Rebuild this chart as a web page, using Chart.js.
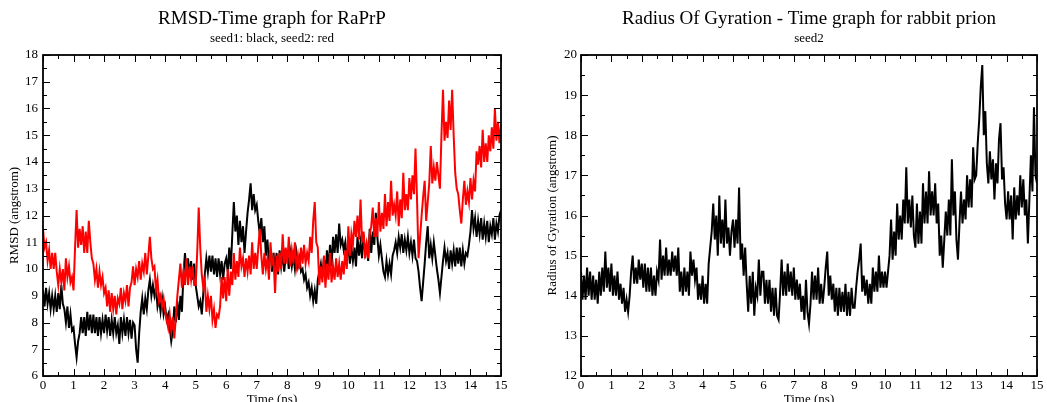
<!DOCTYPE html>
<html>
<head>
<meta charset="utf-8">
<script src="https://cdn.jsdelivr.net/npm/chart.js@4"></script>
<style>
  html, body { margin: 0; padding: 0; background: #fff; overflow: hidden; }
  #left { position: absolute; left: 0; top: 0; }
  #right { position: absolute; left: 520px; top: 0; }
</style>
</head>
<body>
<canvas id="left" width="520" height="402"></canvas>
<canvas id="right" width="527" height="402"></canvas>
<script>
// time axis (ns), sampled every 0.05 ns
const timeNs = [
  0.00, 0.05, 0.10, 0.15, 0.20, 0.25, 0.30, 0.35, 0.40, 0.45, 0.50, 0.55, 0.60, 0.65, 0.70, 0.75, 0.80, 0.85, 0.90, 0.95,
  1.00, 1.05, 1.10, 1.15, 1.20, 1.25, 1.30, 1.35, 1.40, 1.45, 1.50, 1.55, 1.60, 1.65, 1.70, 1.75, 1.80, 1.85, 1.90, 1.95,
  2.00, 2.05, 2.10, 2.15, 2.20, 2.25, 2.30, 2.35, 2.40, 2.45, 2.50, 2.55, 2.60, 2.65, 2.70, 2.75, 2.80, 2.85, 2.90, 2.95,
  3.00, 3.05, 3.10, 3.15, 3.20, 3.25, 3.30, 3.35, 3.40, 3.45, 3.50, 3.55, 3.60, 3.65, 3.70, 3.75, 3.80, 3.85, 3.90, 3.95,
  4.00, 4.05, 4.10, 4.15, 4.20, 4.25, 4.30, 4.35, 4.40, 4.45, 4.50, 4.55, 4.60, 4.65, 4.70, 4.75, 4.80, 4.85, 4.90, 4.95,
  5.00, 5.05, 5.10, 5.15, 5.20, 5.25, 5.30, 5.35, 5.40, 5.45, 5.50, 5.55, 5.60, 5.65, 5.70, 5.75, 5.80, 5.85, 5.90, 5.95,
  6.00, 6.05, 6.10, 6.15, 6.20, 6.25, 6.30, 6.35, 6.40, 6.45, 6.50, 6.55, 6.60, 6.65, 6.70, 6.75, 6.80, 6.85, 6.90, 6.95,
  7.00, 7.05, 7.10, 7.15, 7.20, 7.25, 7.30, 7.35, 7.40, 7.45, 7.50, 7.55, 7.60, 7.65, 7.70, 7.75, 7.80, 7.85, 7.90, 7.95,
  8.00, 8.05, 8.10, 8.15, 8.20, 8.25, 8.30, 8.35, 8.40, 8.45, 8.50, 8.55, 8.60, 8.65, 8.70, 8.75, 8.80, 8.85, 8.90, 8.95,
  9.00, 9.05, 9.10, 9.15, 9.20, 9.25, 9.30, 9.35, 9.40, 9.45, 9.50, 9.55, 9.60, 9.65, 9.70, 9.75, 9.80, 9.85, 9.90, 9.95,
  10.00, 10.05, 10.10, 10.15, 10.20, 10.25, 10.30, 10.35, 10.40, 10.45, 10.50, 10.55, 10.60, 10.65, 10.70, 10.75, 10.80, 10.85, 10.90, 10.95,
  11.00, 11.05, 11.10, 11.15, 11.20, 11.25, 11.30, 11.35, 11.40, 11.45, 11.50, 11.55, 11.60, 11.65, 11.70, 11.75, 11.80, 11.85, 11.90, 11.95,
  12.00, 12.05, 12.10, 12.15, 12.20, 12.25, 12.30, 12.35, 12.40, 12.45, 12.50, 12.55, 12.60, 12.65, 12.70, 12.75, 12.80, 12.85, 12.90, 12.95,
  13.00, 13.05, 13.10, 13.15, 13.20, 13.25, 13.30, 13.35, 13.40, 13.45, 13.50, 13.55, 13.60, 13.65, 13.70, 13.75, 13.80, 13.85, 13.90, 13.95,
  14.00, 14.05, 14.10, 14.15, 14.20, 14.25, 14.30, 14.35, 14.40, 14.45, 14.50, 14.55, 14.60, 14.65, 14.70, 14.75, 14.80, 14.85, 14.90, 14.95,
  15.00
];

// RMSD (angstrom), seed1 (black)
const seed1Rmsd = [
  9.2, 8.6, 9.3, 8.7, 9.1, 8.5, 9.0, 8.5, 9.0, 8.4, 9.1, 8.5, 9.4, 8.7, 8.5, 8.0, 8.6, 7.8, 8.3, 7.7,
  7.8, 7.2, 6.7, 7.3, 7.6, 8.2, 7.6, 8.2, 7.5, 8.4, 7.7, 8.3, 7.6, 8.3, 7.6, 8.2, 7.5, 8.2, 7.6, 8.1,
  7.6, 8.3, 7.7, 8.2, 7.5, 8.1, 7.6, 8.2, 7.6, 7.9, 7.2, 8.2, 7.6, 8.1, 7.5, 8.2, 7.6, 8.1, 7.4, 8.0,
  7.9, 7.0, 6.5, 7.6, 8.4, 8.9, 8.3, 8.9, 8.5, 9.2, 9.6, 9.0, 9.4, 9.0, 9.3, 8.6, 8.9, 8.4, 8.9, 8.3,
  8.6, 8.1, 8.3, 7.8, 7.3, 7.7, 8.6, 8.0, 8.8, 8.1, 9.0, 8.4, 9.8, 10.6, 9.8, 10.4, 9.7, 10.3, 9.6, 10.2,
  9.4, 9.0, 8.6, 8.8, 8.3, 9.1, 9.8, 10.4, 9.9, 10.5, 9.9, 10.5, 9.8, 10.4, 9.7, 10.4, 9.8, 10.3, 9.6, 10.2,
  10.4, 9.9, 10.8, 10.0, 11.3, 12.5, 11.4, 12.0, 10.9, 11.8, 11.0, 11.6, 10.6, 11.4, 12.1, 12.6, 13.2, 12.2, 12.8, 12.2,
  12.4, 11.8, 11.3, 11.9, 11.0, 11.6, 10.5, 11.1, 10.2, 10.7, 9.9, 10.6, 10.0, 10.6, 9.8, 10.7, 10.1, 10.6, 9.9, 10.5,
  10.6, 10.0, 10.6, 10.1, 10.5, 10.0, 10.6, 10.1, 10.4, 9.9, 10.0, 9.6, 9.8, 9.3, 9.5, 9.0, 9.3, 8.8, 9.2, 8.7,
  9.6, 9.9, 10.2, 9.7, 10.4, 9.8, 10.7, 10.0, 10.9, 10.1, 11.2, 10.6, 11.3, 10.6, 11.7, 10.9, 11.1, 10.7, 11.0, 10.4,
  10.9, 10.2, 10.8, 10.3, 10.8, 10.1, 11.2, 10.5, 11.0, 10.4, 11.3, 10.6, 10.9, 10.3, 11.5, 10.6, 11.4, 10.9, 12.1, 11.2,
  10.5, 10.9, 10.4, 9.9, 9.7, 10.3, 9.8, 10.2, 9.8, 10.5, 10.7, 11.0, 10.6, 11.2, 10.8, 11.3, 10.6, 11.1, 10.7, 11.2,
  10.6, 11.0, 10.5, 11.1, 10.4, 10.3, 9.9, 9.3, 8.8, 9.5, 10.2, 11.0, 11.6, 10.4, 10.9, 10.4, 11.0, 10.5, 10.0, 9.6,
  9.1, 9.7, 10.3, 10.8, 10.3, 10.6, 10.0, 10.7, 10.2, 10.7, 10.1, 10.8, 10.2, 10.8, 10.1, 10.7, 10.2, 10.6, 10.5, 10.9,
  11.4, 12.2, 11.5, 11.9, 11.2, 11.8, 11.3, 11.9, 11.1, 11.7, 11.2, 11.8, 11.0, 11.6, 11.3, 11.9, 11.1, 11.7, 11.4, 12.0,
  12.2
];

// RMSD (angstrom), seed2 (red)
const seed2Rmsd = [
  11.5, 10.8, 11.0, 10.3, 10.7, 10.0, 10.6, 10.0, 10.6, 9.9, 9.4, 10.0, 9.5, 10.0, 9.2, 10.4, 9.7, 10.1, 9.5, 9.7,
  9.2, 10.8, 12.2, 10.8, 11.5, 10.9, 11.6, 10.6, 11.4, 10.6, 11.8, 11.0, 10.4, 10.2, 9.6, 10.0, 9.3, 9.9, 9.4, 9.7,
  9.1, 9.3, 8.6, 9.2, 8.4, 9.1, 8.5, 9.0, 8.3, 8.9, 8.7, 9.3, 8.5, 9.1, 8.8, 9.4, 8.6, 9.3, 9.5, 10.1,
  9.4, 10.0, 9.7, 10.3, 9.6, 10.2, 9.9, 10.6, 9.8, 10.5, 11.2, 10.4, 10.0, 10.1, 9.2, 9.6, 8.8, 9.0, 8.6, 8.9,
  8.4, 8.1, 7.8, 8.3, 7.7, 8.2, 7.4, 8.2, 9.0, 9.6, 10.2, 9.3, 9.9, 9.4, 10.4, 9.4, 10.1, 9.6, 10.1, 9.4,
  9.4, 10.6, 12.3, 10.8, 9.8, 9.3, 9.6, 8.4, 9.0, 8.5, 9.0, 8.1, 8.5, 7.8, 8.3, 8.2, 8.6, 9.7, 8.9, 9.7,
  8.8, 10.0, 9.0, 9.9, 9.4, 10.6, 9.6, 10.3, 9.7, 10.8, 10.1, 10.4, 9.7, 10.4, 9.9, 10.5, 9.8, 11.0, 10.0, 10.6,
  10.0, 10.8, 11.5, 10.5, 9.8, 10.6, 10.0, 10.4, 9.6, 11.0, 10.2, 10.4, 9.1, 10.5, 9.9, 10.6, 10.0, 11.3, 10.2, 10.8,
  10.2, 11.2, 10.1, 10.7, 10.2, 11.0, 10.1, 10.5, 10.0, 10.8, 10.2, 10.9, 10.2, 10.6, 10.3, 11.2, 10.6, 11.8, 12.5, 11.0,
  10.8, 9.4, 10.1, 9.5, 10.5, 9.3, 10.2, 9.6, 10.6, 9.5, 10.1, 9.6, 10.4, 9.7, 10.2, 9.6, 10.3, 9.8, 10.7, 10.0,
  11.6, 10.5, 11.3, 10.9, 11.8, 11.2, 12.0, 11.1, 12.6, 11.0, 11.4, 10.4, 10.9, 10.4, 11.3, 11.6, 12.3, 11.2, 11.9, 11.2,
  12.5, 11.4, 12.1, 11.5, 12.8, 11.6, 12.5, 11.8, 13.3, 12.0, 12.4, 12.0, 12.9, 11.6, 12.6, 11.9, 13.6, 12.2, 12.8, 12.2,
  13.4, 12.6, 13.5, 12.8, 14.5, 12.6, 10.4, 11.2, 12.0, 12.7, 13.3, 11.8, 12.5, 13.2, 14.6, 13.2, 13.8, 13.3, 14.0, 13.5,
  13.0, 15.0, 16.7, 14.8, 15.5, 14.9, 16.3, 15.2, 16.7, 15.0, 13.6, 13.0, 12.8, 12.2, 11.7, 12.6, 13.3, 12.4, 12.9, 12.5,
  13.4, 12.6, 13.3, 12.9, 14.4, 13.9, 14.6, 13.8, 15.2, 14.0, 14.7, 14.0, 15.0, 14.4, 15.3, 14.5, 16.0, 14.8, 15.5, 14.7,
  15.4
];

// Radius of gyration (angstrom), seed2
const seed2Rg = [
  14.6, 13.9, 14.5, 13.9, 14.7, 14.0, 14.6, 13.9, 14.5, 13.9, 14.4, 13.8, 14.6, 14.0, 14.7, 14.1, 15.1, 14.2, 14.7, 14.1,
  14.8, 14.0, 14.5, 14.0, 14.6, 13.9, 14.3, 13.8, 14.2, 13.6, 13.9, 13.6, 14.0, 14.6, 15.0, 14.3, 14.7, 14.3, 14.9, 14.4,
  14.8, 14.2, 14.8, 14.1, 14.7, 14.1, 14.7, 14.0, 14.5, 14.0, 14.6, 14.4, 15.4, 14.4, 15.0, 14.5, 15.2, 14.5, 14.9, 14.5,
  15.1, 14.6, 15.0, 14.5, 15.2, 14.1, 14.6, 14.0, 14.7, 14.1, 14.6, 14.0, 15.1, 14.5, 14.9, 14.4, 14.7, 13.9, 14.3, 13.9,
  14.5, 13.8, 14.3, 13.8, 14.8, 15.2, 15.6, 16.3, 15.4, 16.0, 15.0, 16.5, 15.3, 15.9, 15.2, 16.4, 15.3, 15.7, 15.0, 15.6,
  15.9, 15.2, 15.9, 15.3, 16.7, 14.9, 15.3, 14.5, 15.2, 14.3, 13.6, 14.5, 13.8, 14.6, 13.5, 14.2, 14.0, 14.9, 14.0, 14.6,
  14.6, 13.8, 14.4, 13.8, 14.4, 13.6, 14.2, 13.5, 14.2, 13.5, 13.4, 14.1, 14.9, 14.0, 14.6, 14.0, 14.8, 14.1, 14.6, 14.0,
  14.7, 13.9, 14.4, 13.9, 14.3, 13.6, 14.0, 13.4, 14.4, 13.6, 13.3, 13.8, 14.6, 13.9, 14.5, 13.9, 14.7, 13.8, 14.3, 13.8,
  14.2, 14.7, 15.1, 14.0, 14.5, 13.9, 14.3, 13.6, 14.2, 13.5, 14.2, 13.6, 14.1, 13.6, 14.3, 13.5, 14.1, 13.5, 14.2, 13.7,
  13.7, 14.2, 14.6, 14.9, 15.3, 14.1, 14.5, 14.0, 14.4, 13.8, 14.3, 13.8, 14.7, 14.1, 14.6, 14.1, 15.0, 14.2, 14.6, 14.2,
  14.6, 14.2, 14.6, 15.0, 15.9, 14.9, 15.6, 15.0, 16.3, 15.4, 16.0, 15.4, 16.4, 15.8, 17.2, 15.8, 16.4, 15.7, 16.5, 15.5,
  15.2, 16.3, 15.3, 16.1, 15.3, 16.8, 15.8, 16.6, 15.8, 17.1, 16.0, 16.6, 16.0, 16.8, 15.8, 16.3, 15.0, 15.5, 14.7, 15.4,
  16.1, 15.5, 16.4, 15.5, 17.4, 16.0, 16.6, 15.4, 14.9, 15.8, 16.6, 15.8, 16.4, 15.9, 17.0, 16.2, 16.9, 16.2, 17.7, 16.9,
  17.0, 17.8, 18.4, 19.2, 19.75, 18.0, 18.6, 17.3, 16.8, 17.6, 16.9, 17.4, 16.4, 17.3, 16.8, 17.9, 18.3, 16.9, 17.2, 16.3,
  15.9, 16.6, 15.9, 16.5, 15.4, 16.7, 15.9, 16.5, 16.0, 17.0, 16.2, 16.9, 16.0, 16.4, 15.3, 16.4, 17.5, 16.6, 18.7, 17.0,
  16.8
];

const serif = "'Liberation Serif', 'Times New Roman', serif";

function points(values) {
  return timeNs.map((t, i) => ({ x: t, y: values[i] }));
}

// xmgrace style frame: box with inward major/minor ticks on all four sides
const frameTicks = {
  id: 'frameTicks',
  afterDatasetsDraw(chart) {
    const { ctx, chartArea: a, scales: { x, y } } = chart;
    ctx.save();
    ctx.strokeStyle = '#000';
    ctx.lineWidth = 1;
    ctx.beginPath();
    const xs = x.ticks.map(t => t.value);
    xs.forEach((v, i) => {
      const px = Math.round(x.getPixelForValue(v)) + 0.5;
      ctx.moveTo(px, a.bottom); ctx.lineTo(px, a.bottom - 7);
      ctx.moveTo(px, a.top); ctx.lineTo(px, a.top + 7);
      if (i < xs.length - 1) {
        const mx = Math.round(x.getPixelForValue((v + xs[i + 1]) / 2)) + 0.5;
        ctx.moveTo(mx, a.bottom); ctx.lineTo(mx, a.bottom - 4);
        ctx.moveTo(mx, a.top); ctx.lineTo(mx, a.top + 4);
      }
    });
    const ys = y.ticks.map(t => t.value);
    ys.forEach((v, i) => {
      const py = Math.round(y.getPixelForValue(v)) + 0.5;
      ctx.moveTo(a.left, py); ctx.lineTo(a.left + 7, py);
      ctx.moveTo(a.right, py); ctx.lineTo(a.right - 7, py);
      if (i < ys.length - 1) {
        const my = Math.round(y.getPixelForValue((v + ys[i + 1]) / 2)) + 0.5;
        ctx.moveTo(a.left, my); ctx.lineTo(a.left + 4, my);
        ctx.moveTo(a.right, my); ctx.lineTo(a.right - 4, my);
      }
    });
    ctx.stroke();
    ctx.lineWidth = 1.8;
    ctx.strokeRect(a.left, a.top, a.right - a.left, a.bottom - a.top);
    ctx.restore();
  }
};

function makeChart(id, cfg) {
  return new Chart(document.getElementById(id), {
    type: 'line',
    data: { datasets: cfg.datasets },
    options: {
      responsive: false,
      animation: false,
      events: [],
      layout: { padding: { left: 0, right: cfg.padRight, top: 0, bottom: 0 } },
      elements: {
        point: { radius: 0 },
        line: { borderWidth: 2, tension: 0 }
      },
      plugins: {
        legend: { display: false },
        tooltip: { enabled: false },
        title: {
          display: true,
          text: cfg.title,
          fullSize: false,
          color: '#000',
          font: { family: serif, size: 19, weight: 'normal' },
          padding: { top: 7.2, bottom: 0 }
        },
        subtitle: {
          display: true,
          text: cfg.subtitle,
          fullSize: false,
          color: '#000',
          font: { family: serif, size: 13, weight: 'normal' },
          padding: { top: 0.5, bottom: 8.9 }
        }
      },
      scales: {
        x: {
          type: 'linear',
          min: 0, max: 15,
          grid: { display: false, drawTicks: false },
          border: { display: false },
          ticks: {
            stepSize: 1, autoSkip: false, maxRotation: 0,
            padding: 2, color: '#000',
            font: { family: serif, size: 13 }
          },
          title: {
            display: true, text: 'Time (ns)', color: '#000',
            font: { family: serif, size: 13 },
            padding: { top: 0, bottom: -5.4 }
          },
          afterFit(scale) { scale.height = 26; }
        },
        y: {
          min: cfg.yMin, max: cfg.yMax,
          grid: { display: false, drawTicks: false },
          border: { display: false },
          ticks: {
            stepSize: 1, autoSkip: false,
            padding: cfg.tickPad, color: '#000',
            font: { family: serif, size: 13 }
          },
          title: {
            display: true, text: cfg.yTitle, color: '#000',
            font: { family: serif, size: 13 },
            padding: { top: cfg.yTitlePad, bottom: 0 }
          },
          afterFit(scale) { scale.width = cfg.yWidth; }
        }
      }
    },
    plugins: [frameTicks]
  });
}

makeChart('left', {
  title: 'RMSD-Time graph for RaPrP',
  subtitle: 'seed1: black, seed2: red',
  yTitle: 'RMSD (angstrom)',
  yMin: 6, yMax: 18,
  yWidth: 43, yTitlePad: 7.2, tickPad: 5, padRight: 19,
  datasets: [
    { label: 'seed2', data: points(seed2Rmsd), borderColor: '#ff0000' },
    { label: 'seed1', data: points(seed1Rmsd), borderColor: '#000000' }
  ]
});

makeChart('right', {
  title: 'Radius Of Gyration - Time graph for rabbit prion',
  subtitle: 'seed2',
  yTitle: 'Radius of Gyration (angstrom)',
  yMin: 12, yMax: 20,
  yWidth: 61, yTitlePad: 24.7, tickPad: 4, padRight: 10,
  datasets: [
    { label: 'seed2', data: points(seed2Rg), borderColor: '#000000' }
  ]
});
</script>
</body>
</html>
